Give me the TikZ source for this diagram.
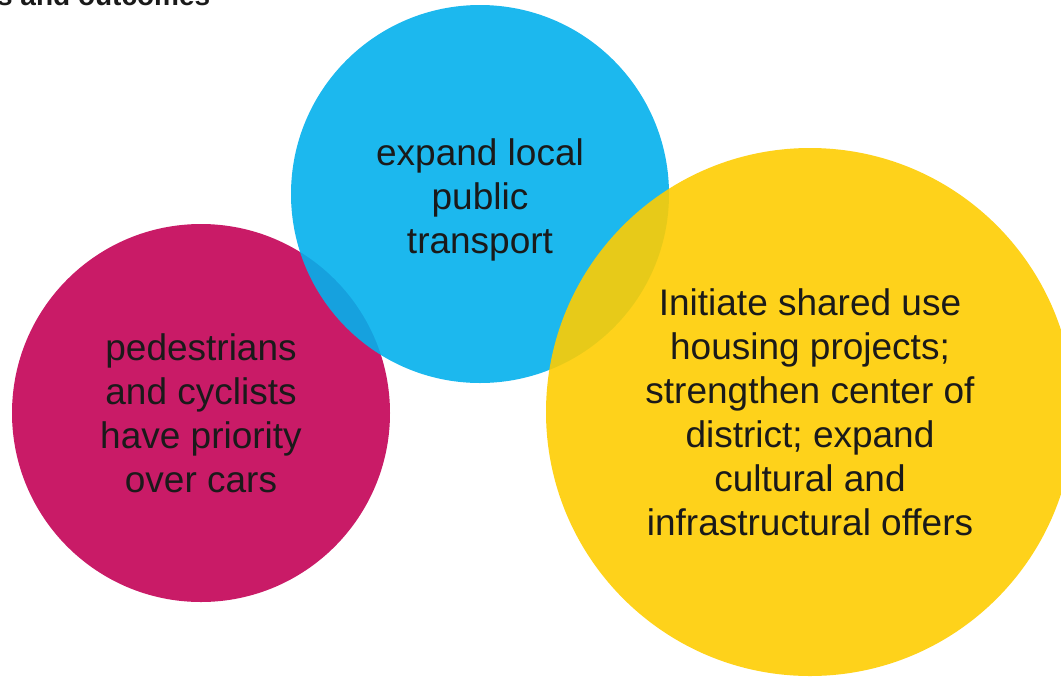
\documentclass[tikz,border=0pt]{standalone}
\usepackage{fontspec}
\setmainfont{Liberation Sans}
\usepackage{tikz}
\usepackage{xcolor}
\usetikzlibrary{
    shapes,
    positioning
}
\definecolor{carsred}{HTML}{C91B67}
\definecolor{transblue}{HTML}{03B0EC}
\definecolor{houseyellow}{HTML}{FECD02}
\definecolor{labelgray}{HTML}{1A1A1A}

\begin{document}
\begin{tikzpicture}[x=0.75pt, y=-0.75pt,
    bubble/.style={circle, inner sep=0pt, align=center, text=labelgray,
        font=\fontsize{27.75}{33}\selectfont, fill opacity=0.9, text opacity=1},
    heading/.style={anchor=base east, font=\fontsize{21}{25}\selectfont\bfseries, text=labelgray}]
    \useasboundingbox (0, 0) rectangle (1061, 676);
    \node[heading] (title) at (215, 5) {s and outcomes};
    \node[bubble, fill=carsred, fill opacity=1, minimum size=283.5pt] (cars) at (201, 413)
        {pedestrians\\and cyclists\\have priority\\over cars};
    \node[bubble, fill=transblue, minimum size=283.5pt] (transport) at (480, 194) {};
    \node[align=center, text=labelgray, font=\fontsize{27.75}{33}\selectfont] (transportlabel) at (480, 200)
        {expand local\\public\\transport};
    \node[bubble, fill=houseyellow, minimum size=396pt] (housing) at (810, 412)
        {Initiate shared use\\housing projects;\\strengthen center of\\district; expand\\cultural and\\infrastructural offers};
\end{tikzpicture}
\end{document}
